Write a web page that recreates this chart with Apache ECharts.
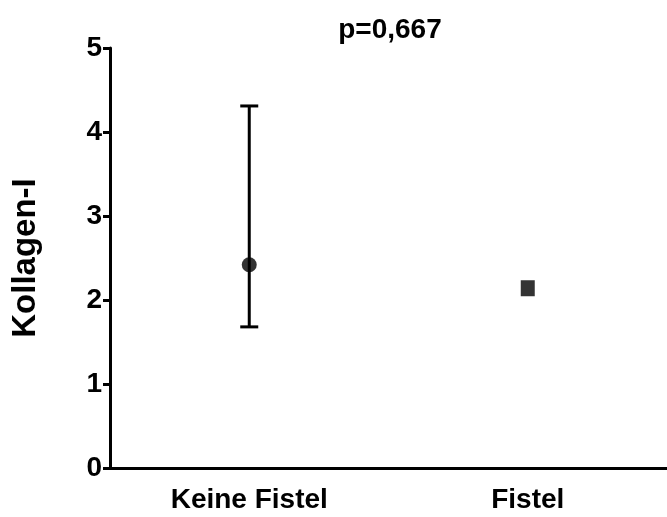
<!DOCTYPE html>
<html>
<head>
<meta charset="utf-8">
<script src="https://cdn.jsdelivr.net/npm/echarts@6/dist/echarts.min.js"></script>
<style>
  html, body { margin: 0; padding: 0; background: #fff; }
  #chart { width: 667px; height: 517px; }
</style>
</head>
<body>
<div id="chart"></div>
<script>
// Group labels and measured Kollagen-I values
const categories = ['Keine Fistel', 'Fistel'];
const means = [2.42, 2.14];
const lowerBounds = [1.68, null];
const upperBounds = [4.31, null];
const markerShapes = ['circle', 'rect'];
const yTicks = [0, 1, 2, 3, 4, 5];

const FONT = '"Liberation Sans", Arial, Helvetica, sans-serif';

const chart = echarts.init(document.getElementById('chart'), null, { renderer: 'canvas' });

const errorData = categories.map((c, i) => [i, lowerBounds[i], upperBounds[i]])
  .filter(d => d[1] != null && d[2] != null);

chart.setOption({
  animation: false,
  backgroundColor: '#ffffff',
  title: {
    text: 'p=0,667',
    left: 385,
    top: 11,
    textAlign: 'center',
    textStyle: { fontFamily: FONT, fontWeight: 'bold', fontSize: 28, color: '#000' }
  },
  grid: { left: 110, right: 0, top: 48, bottom: 49, containLabel: false, outerBoundsMode: 'none' },
  xAxis: {
    type: 'category',
    data: categories,
    boundaryGap: true,
    axisLine: { lineStyle: { color: '#000', width: 3 } },
    axisTick: { alignWithLabel: true, length: 7, lineStyle: { color: '#000', width: 3 } },
    axisLabel: { margin: 18, color: '#000', fontFamily: FONT, fontWeight: 'bold', fontSize: 28 },
    splitLine: { show: false }
  },
  yAxis: {
    type: 'value',
    min: yTicks[0],
    max: yTicks[yTicks.length - 1],
    interval: 1,
    name: 'Kollagen-I',
    nameLocation: 'middle',
    nameGap: 68,
    nameTextStyle: { fontFamily: FONT, fontWeight: 'bold', fontSize: 33, color: '#000' },
    axisLine: { show: true, lineStyle: { color: '#000', width: 3 } },
    axisTick: { show: true, length: 7, lineStyle: { color: '#000', width: 3 } },
    axisLabel: { margin: 8, color: '#000', fontFamily: FONT, fontWeight: 'bold', fontSize: 28 },
    splitLine: { show: false }
  },
  series: [
    {
      // vertical range bar with end caps
      type: 'custom',
      data: errorData,
      z: 2,
      renderItem: function (params, api) {
        const x = api.value(0);
        const lo = api.coord([x, api.value(1)]);
        const hi = api.coord([x, api.value(2)]);
        const half = 9;
        const style = { stroke: '#000', lineWidth: 3 };
        return {
          type: 'group',
          children: [
            { type: 'line', shape: { x1: lo[0], y1: lo[1], x2: hi[0], y2: hi[1] }, style: style },
            { type: 'line', shape: { x1: lo[0] - half, y1: lo[1], x2: lo[0] + half, y2: lo[1] }, style: style },
            { type: 'line', shape: { x1: hi[0] - half, y1: hi[1], x2: hi[0] + half, y2: hi[1] }, style: style }
          ]
        };
      }
    },
    {
      type: 'scatter',
      z: 3,
      data: categories.map((c, i) => ({
        value: [i, means[i]],
        symbol: markerShapes[i],
        symbolSize: markerShapes[i] === 'rect' ? [14, 16] : 15
      })),
      itemStyle: { color: '#000' }
    }
  ]
});
</script>
</body>
</html>
